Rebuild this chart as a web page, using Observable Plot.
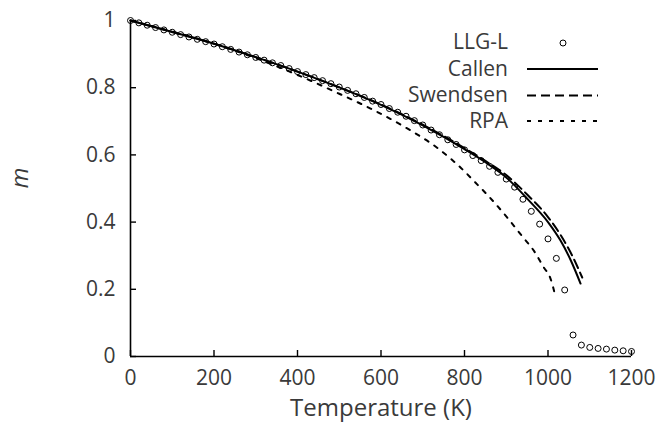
<!DOCTYPE html>
<html>
<head>
<meta charset="utf-8">
<script src="https://cdn.jsdelivr.net/npm/d3@7"></script>
<script src="https://cdn.jsdelivr.net/npm/@observablehq/plot@0.6"></script>
<style>
  html, body { margin: 0; padding: 0; background: #fff; }
  #chart { width: 665px; height: 434px; }
</style>
</head>
<body>
<div id="chart"></div>
<script>
// ---- data ----
const llgT = [0,20,40,60,80,100,120,140,160,180,200,220,240,260,280,300,320,340,360,380,400,420,440,460,480,500,520,540,560,580,600,620,640,660,680,700,720,740,760,780,800,820,840,860,880,900,920,940,960,980,1000,1020,1040,1060,1080,1100,1120,1140,1160,1180,1200];
const llgM = [1.000,0.993,0.986,0.979,0.972,0.965,0.958,0.951,0.944,0.937,0.930,0.922,0.914,0.906,0.898,0.890,0.882,0.874,0.866,0.857,0.848,0.839,0.830,0.821,0.812,0.802,0.792,0.782,0.771,0.760,0.750,0.738,0.727,0.715,0.702,0.689,0.674,0.660,0.645,0.631,0.615,0.598,0.583,0.566,0.548,0.528,0.504,0.468,0.432,0.394,0.350,0.292,0.198,0.064,0.034,0.027,0.024,0.022,0.019,0.017,0.015];

const callenT = [0,100,200,300,400,500,600,700,800,850,900,950,1000,1030,1055,1078];
const callenM = [1.000,0.966,0.931,0.891,0.848,0.801,0.749,0.688,0.617,0.578,0.533,0.470,0.400,0.345,0.285,0.217];

const swendsenT = [0,100,200,300,400,500,600,700,800,850,900,950,1000,1030,1060,1082];
const swendsenM = [1.000,0.966,0.931,0.891,0.848,0.801,0.750,0.690,0.620,0.582,0.540,0.482,0.415,0.362,0.295,0.235];

const rpaT = [0,100,200,300,400,500,575,650,740,800,822,860,902,940,966,990,1006,1016];
const rpaM = [1.000,0.967,0.931,0.888,0.838,0.782,0.738,0.688,0.616,0.551,0.523,0.474,0.414,0.355,0.315,0.265,0.232,0.188];

const xTicks = [0,200,400,600,800,1000,1200];
const xTickLabels = ["0","200","400","600","800","1000","1200"];
const yTicks = [0,0.2,0.4,0.6,0.8,1];
const yTickLabels = ["0","0.2","0.4","0.6","0.8","1"];

const seriesNames = ["LLG-L","Callen","Swendsen","RPA"];
const xLabel = "Temperature (K)";
const yLabel = "m";

// ---- tables ----
const llg = llgT.map((t, i) => ({t, m: llgM[i]}));
const callen = callenT.map((t, i) => ({t, m: callenM[i]}));
const swendsen = swendsenT.map((t, i) => ({t, m: swendsenM[i]}));
const rpa = rpaT.map((t, i) => ({t, m: rpaM[i]}));

const FONT = "'Open Sans', sans-serif";
const FS = 21;
const INK = "#3a3a3a";

const plot = Plot.plot({
  width: 665,
  height: 434,
  marginLeft: 130,
  marginRight: 34,
  marginTop: 20,
  marginBottom: 78,
  style: {fontFamily: FONT, fontSize: FS + "px", color: INK, background: "#fff"},
  x: {domain: [0, 1200], label: null},
  y: {domain: [0, 1], label: null},
  marks: [
    // frame (left + bottom)
    Plot.ruleY([0], {stroke: "black", strokeWidth: 1.6}),
    Plot.ruleX([0], {stroke: "black", strokeWidth: 1.6}),
    // inward ticks
    Plot.ruleX(xTicks, {y1: 0, y2: 0, insetTop: -6, stroke: "black", strokeWidth: 1.4}),
    Plot.ruleY(yTicks, {x1: 0, x2: 0, insetRight: -6, stroke: "black", strokeWidth: 1.4}),
    // tick labels
    Plot.axisX({ticks: xTicks, tickSize: 0, tickPadding: 14, tickFormat: (d) => xTickLabels[xTicks.indexOf(d)], fontSize: FS, label: null}),
    Plot.axisY({ticks: yTicks, tickSize: 0, tickPadding: 15, tickFormat: (d) => yTickLabels[yTicks.indexOf(d)], fontSize: FS, label: null}),
    // axis titles
    Plot.text([xLabel], {frameAnchor: "bottom", dy: 59, fontSize: 24, fill: INK}),
    Plot.text([yLabel], {frameAnchor: "left", dx: -110, rotate: -90, fontSize: 24, fontStyle: "italic", fill: INK}),
    // curves
    Plot.line(rpa, {x: "t", y: "m", stroke: "black", strokeWidth: 2, strokeDasharray: "4,7", curve: "monotone-x"}),
    Plot.line(swendsen, {x: "t", y: "m", stroke: "black", strokeWidth: 2, strokeDasharray: "9,5", curve: "monotone-x"}),
    Plot.line(callen, {x: "t", y: "m", stroke: "black", strokeWidth: 2, curve: "monotone-x"}),
    Plot.dot(llg, {x: "t", y: "m", r: 3, stroke: "black", strokeWidth: 1, fill: "none"})
  ]
});

// ---- legend ----
const svg = d3.select(plot);
const lg = svg.append("g").attr("font-family", FONT).attr("font-size", 21).attr("fill", INK);
const rows = [42, 69, 95.5, 121];
const styles = [null, "none", "9,5", "4,7"];
seriesNames.forEach((name, i) => {
  const y = rows[i];
  lg.append("text").attr("x", 508).attr("y", y).attr("dy", "0.32em").attr("text-anchor", "end").text(name);
  if (i === 0) {
    lg.append("circle").attr("cx", 563).attr("cy", y + 1).attr("r", 3).attr("fill", "none").attr("stroke", "black").attr("stroke-width", 1);
  } else {
    const l = lg.append("line").attr("x1", 527).attr("x2", 598).attr("y1", y).attr("y2", y)
      .attr("stroke", "black").attr("stroke-width", 2);
    if (styles[i] !== "none") l.attr("stroke-dasharray", styles[i]);
  }
});

document.getElementById("chart").appendChild(plot);
</script>
</body>
</html>
